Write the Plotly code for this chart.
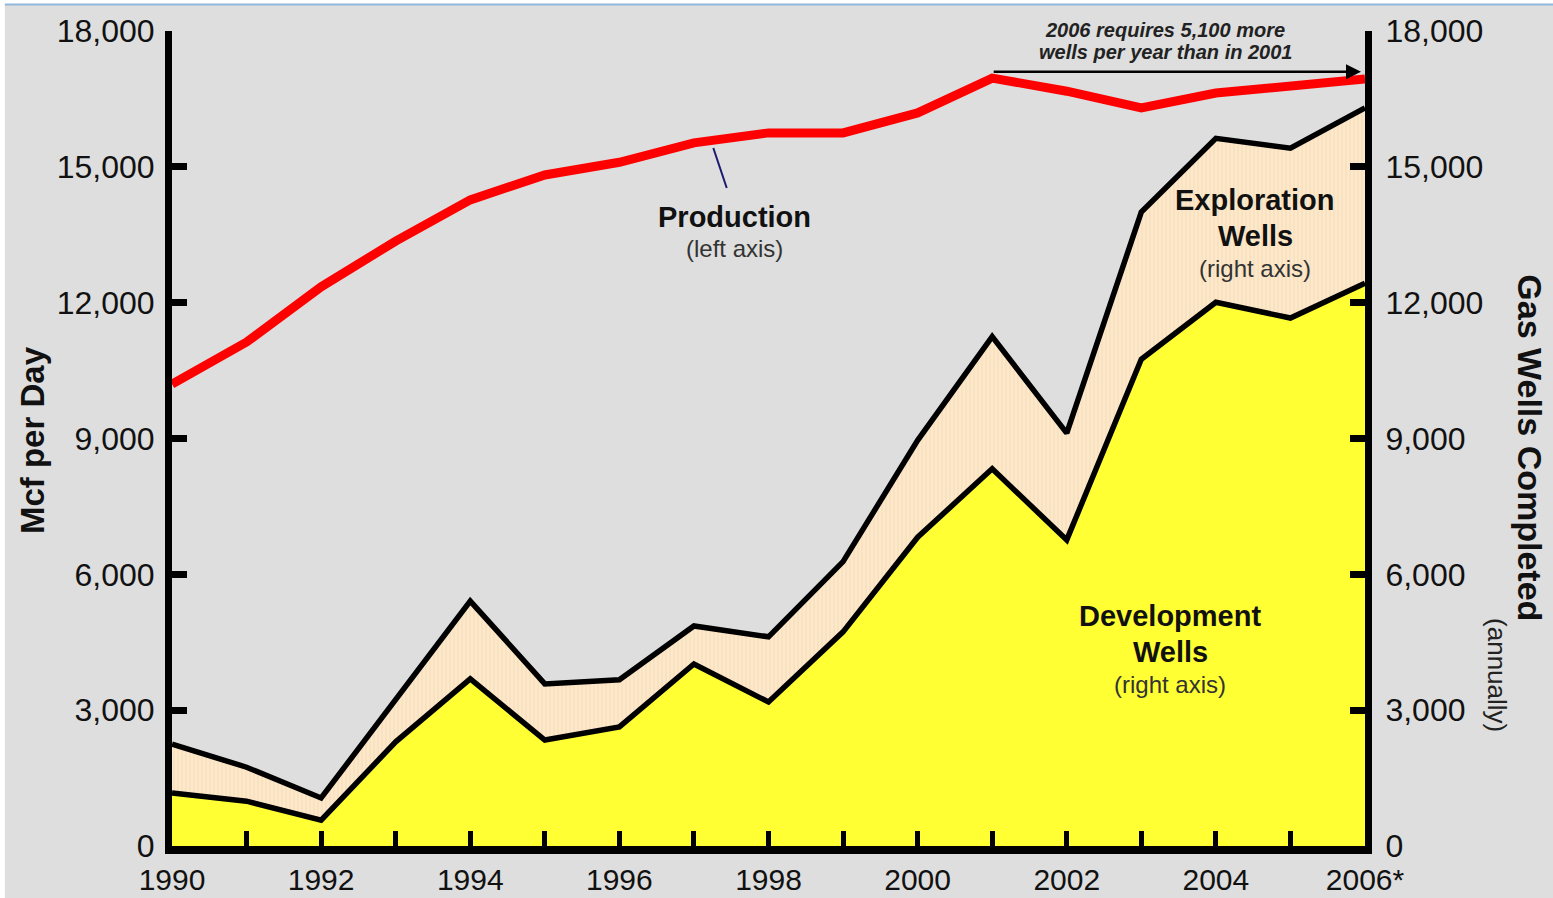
import plotly.graph_objects as go

# Annual series, 1990-2006
years = list(range(1990, 2007))
production_mcf_day = [10200, 11130, 12350, 13360, 14270, 14820, 15100, 15530, 15750,
                      15750, 16190, 16960, 16670, 16300, 16630, 16810, 16940]
development_wells = [1170, 990, 570, 2300, 3690, 2340, 2630, 4020, 3180,
                     4730, 6820, 8330, 6760, 10750, 12010, 11660, 12430]
exploration_wells = [1080, 750, 490, 930, 1720, 1240, 1040, 840, 1440,
                     1550, 2140, 2920, 2360, 3250, 3620, 3750, 3870]
year_labels = ["1990", "", "1992", "", "1994", "", "1996", "", "1998", "",
               "2000", "", "2002", "", "2004", "", "2006*"]
y_ticks = [0, 3000, 6000, 9000, 12000, 15000, 18000]

FONT = "Liberation Sans, Arial, sans-serif"
BG = "#dedede"

fig = go.Figure()

fig.add_trace(go.Scatter(
    x=years, y=development_wells, yaxis="y2", stackgroup="wells",
    mode="lines", line=dict(color="black", width=5.5),
    fillcolor="#ffff33", name="Development Wells"))
fig.add_trace(go.Scatter(
    x=years, y=exploration_wells, yaxis="y2", stackgroup="wells",
    mode="lines", line=dict(color="black", width=5.5),
    fillcolor="#fde9c9",
    fillpattern=dict(shape="|", fgcolor="#f3dcba", bgcolor="#fde9c9",
                     size=4, solidity=0.25, fillmode="replace"),
    name="Exploration Wells"))
fig.add_trace(go.Scatter(
    x=years, y=production_mcf_day, yaxis="y", mode="lines",
    line=dict(color="#ff0000", width=9), name="Production"))

ann = []


def label(text, x, y, size, bold=False, color="#111111", italic=False, ref="data", **kw):
    t = text
    if bold:
        t = "<b>" + t + "</b>"
    if italic:
        t = "<i>" + t + "</i>"
    xr, yr = ("x", "y") if ref == "data" else ("paper", "paper")
    ann.append(dict(text=t, x=x, y=y, xref=xr, yref=yr, showarrow=False,
                    xanchor="center", yanchor="middle",
                    font=dict(family=FONT, size=size, color=color), **kw))


label("Production", 1997.54, 13891, 29, bold=True)
label("(left axis)", 1997.54, 13207, 24, color="#333333")
label("Exploration", 2004.53, 14267, 29, bold=True)
label("Wells", 2004.53, 13472, 29, bold=True)
label("(right axis)", 2004.53, 12765, 24, color="#333333")
label("Development", 2003.39, 5080, 29, bold=True)
label("Wells", 2003.39, 4284, 29, bold=True)
label("(right axis)", 2003.39, 3578, 24, color="#333333")
label("2006 requires 5,100 more", 0.8325, 1.0012, 20, bold=True, italic=True,
      color="#222222", ref="paper")
label("wells per year than in 2001", 0.8325, 0.9742, 20, bold=True, italic=True,
      color="#222222", ref="paper")

# Arrow from 2001 to 2006 above the production line
ann.append(dict(x=2006, y=17100, ax=2001, ay=17100, xref="x", yref="y",
                axref="x", ayref="y", text="", showarrow=True,
                arrowhead=2, arrowsize=1.2, arrowwidth=2.5, arrowcolor="black",
                standoff=4))

# Axis titles
label("Mcf per Day", -0.1174, 0.498, 33, bold=True, ref="paper", textangle=-90)
label("Gas Wells Completed", 1.1383, 0.488, 34, bold=True, ref="paper", textangle=90)
label("(annually)", 1.1106, 0.2098, 26, color="#222222", ref="paper", textangle=90)

shapes = [
    # pointer from the production label to the line
    dict(type="line", xref="x", yref="y", x0=1997.26, y0=15415, x1=1997.44, y1=14532,
         line=dict(color="#1a1a70", width=2)),
    # white frame strips and thin blue top rule
    dict(type="rect", xref="paper", yref="paper", x0=-0.15, x1=1.2, y0=1.0319, y1=1.04,
         fillcolor="white", line=dict(width=0), layer="above"),
    dict(type="rect", xref="paper", yref="paper", x0=-0.15, x1=-0.1401, y0=-0.07, y1=1.04,
         fillcolor="white", line=dict(width=0), layer="above"),
    dict(type="line", xref="paper", yref="paper", x0=-0.1401, x1=1.2, y0=1.0325, y1=1.0325,
         line=dict(color="#8fb8da", width=2), layer="above"),
]

axis_common = dict(range=[0, 18000], tickvals=y_ticks, tickformat=",d",
                   showgrid=False, zeroline=False, showline=True,
                   linecolor="black", linewidth=7, ticks="inside",
                   ticklen=15, tickwidth=7, tickcolor="black",
                   tickfont=dict(family=FONT, size=32, color="#111111"),
                   automargin=False, fixedrange=True)

fig.update_layout(
    template="none",
    width=1553, height=898,
    margin=dict(l=172, r=188, t=31, b=52),
    paper_bgcolor=BG, plot_bgcolor=BG,
    showlegend=False,
    xaxis=dict(range=[1990, 2006], tickvals=years, ticktext=year_labels,
               showgrid=False, zeroline=False, showline=True,
               linecolor="black", linewidth=8, ticks="inside",
               ticklen=15, tickwidth=5, tickcolor="black",
               tickfont=dict(family=FONT, size=30, color="#111111"),
               ticklabelstandoff=0, automargin=False, fixedrange=True),
    yaxis=dict(side="left", ticklabelstandoff=4, **axis_common),
    yaxis2=dict(side="right", overlaying="y", ticklabelstandoff=7, **axis_common),
    annotations=ann,
    shapes=shapes,
)

fig.write_html("out.html")
